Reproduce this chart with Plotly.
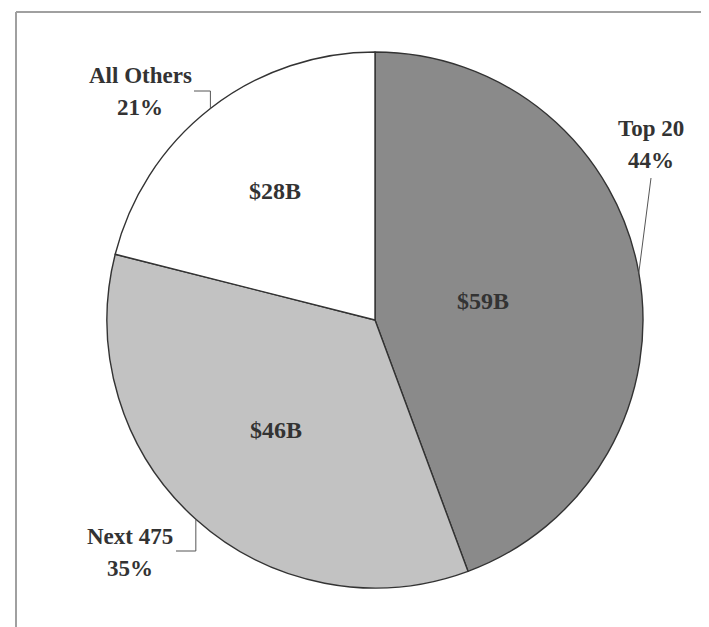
import numpy as np
import plotly.graph_objects as go

# ---- data ----
categories = ["Top 20", "Next 475", "All Others"]
values = [59, 46, 28]                     # $ billions
value_labels = ["$59B", "$46B", "$28B"]
colors = ["#8a8a8a", "#c2c2c2", "#ffffff"]

W, H = 709, 627
CX, CY, R = 367, 312, 268                  # pie centre / radius in px

def px(x):
    return x / W

def py(y):
    return 1 - y / H

fig = go.Figure(go.Pie(
    labels=categories, values=values, sort=False, direction="clockwise",
    rotation=0, textinfo="none", hoverinfo="label+value+percent",
    marker=dict(colors=colors, line=dict(color="#333333", width=1.4)),
    domain=dict(x=[px(CX - R), px(CX + R)], y=[py(CY + R), py(CY - R)]),
    showlegend=False,
))

vals = np.array(values, dtype=float)
frac = vals / vals.sum()
cum = np.cumsum(frac) - frac
mid = (cum + frac / 2) * 2 * np.pi        # clockwise from 12 o'clock
pct = [f"{round(f * 100):d}%" for f in frac]

font = dict(family="Liberation Serif, Times New Roman, serif", size=23, color="#333333")
font_in = dict(family="Liberation Serif, Times New Roman, serif", size=24, color="#333333")

def pt(angle, rr):
    return CX + rr * np.sin(angle), CY - rr * np.cos(angle)

annotations = []
shapes = []

# inside value labels
inner_r = [0.41, 0.55, 0.61]
for i, lab in enumerate(value_labels):
    x, y = pt(mid[i], inner_r[i] * R)
    annotations.append(dict(x=px(x), y=py(y), xref="paper", yref="paper",
                            text=f"<b>{lab}</b>", showarrow=False,
                            xanchor="center", yanchor="middle", font=font_in))

# outside labels + leader lines
label_pos = {0: (643, 120), 1: (122, 528), 2: (132, 68)}
for i, name in enumerate(categories):
    lx, ly = label_pos[i]
    annotations.append(dict(x=px(lx), y=py(ly), xref="paper", yref="paper",
                            text=f"<b>{name}</b>", showarrow=False,
                            xanchor="center", yanchor="middle", font=font))
    annotations.append(dict(x=px(lx), y=py(ly + 32), xref="paper", yref="paper",
                            text=f"<b>{pct[i]}</b>", showarrow=False,
                            xanchor="center", yanchor="middle", font=font))

line_style = dict(color="#555555", width=1)
ex, ey = pt(mid[0], R)
shapes.append(dict(type="line", xref="paper", yref="paper",
                   x0=px(ex), y0=py(ey), x1=px(643), y1=py(170), line=line_style))
ex, ey = pt(mid[1], R)
shapes.append(dict(type="path", xref="paper", yref="paper",
                   path=f"M {px(ex)} {py(ey)} L {px(ex)} {py(543)} L {px(168)} {py(543)}",
                   line=line_style))
ex, ey = pt(mid[2], R)
shapes.append(dict(type="path", xref="paper", yref="paper",
                   path=f"M {px(ex)} {py(ey)} L {px(ex)} {py(83)} L {px(186)} {py(83)}",
                   line=line_style))

# frame
frame = dict(color="#a0a0a0", width=2)
shapes.append(dict(type="line", xref="paper", yref="paper",
                   x0=px(8), y0=py(4), x1=px(709), y1=py(4), line=frame))
shapes.append(dict(type="line", xref="paper", yref="paper",
                   x0=px(8), y0=py(4), x1=px(8), y1=py(627), line=frame))
shapes.append(dict(type="line", xref="paper", yref="paper",
                   x0=px(8), y0=py(625), x1=px(709), y1=py(625),
                   line=dict(color="#e6e6e6", width=1)))

fig.update_layout(width=W, height=H, margin=dict(l=0, r=0, t=0, b=0),
                  paper_bgcolor="white", plot_bgcolor="white",
                  annotations=annotations, shapes=shapes)

fig.write_html("out.html")
